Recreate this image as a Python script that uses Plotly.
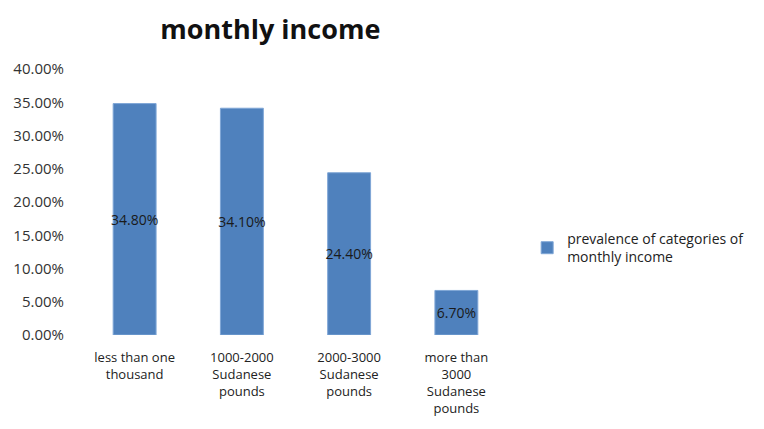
import plotly.graph_objects as go

categories = ["less than one<br>thousand", "1000-2000<br>Sudanese<br>pounds",
              "2000-3000<br>Sudanese<br>pounds", "more than<br>3000<br>Sudanese<br>pounds"]
values = [0.348, 0.341, 0.244, 0.067]
labels = ["34.80%", "34.10%", "24.40%", "6.70%"]
series_name = "prevalence of categories of<br>monthly income"

FONT = "Open Sans, Liberation Sans, sans-serif"

fig = go.Figure()
fig.add_trace(go.Bar(
    x=categories, y=values, name=series_name,
    text=labels, textposition="inside", insidetextanchor="middle", textangle=0,
    constraintext="none",
    textfont=dict(color="#1a1a1a", size=14, family=FONT),
    marker=dict(color="#4F81BD", line=dict(color="#7fa6d6", width=1)),
    width=0.4, showlegend=True,
))

fig.update_layout(
    width=756, height=421,
    paper_bgcolor="white", plot_bgcolor="white",
    margin=dict(l=73, r=254, t=61, b=94),
    title=dict(text="<b>monthly income</b>", x=0.347, xanchor="center", y=0.948, yanchor="middle",
               font=dict(size=27, color="#111", family=FONT)),
    font=dict(family=FONT, size=12, color="#333"),
    uniformtext=dict(minsize=14, mode="show"),
    xaxis=dict(showgrid=False, showline=False, ticks="", tickfont=dict(size=13, color="#222"),
               tickangle=0, automargin=False, ticklabelstandoff=13),
    yaxis=dict(range=[0, 0.40], dtick=0.05, tickformat=".2%", showgrid=False, showline=False,
               zeroline=False, ticks="", ticklabelstandoff=16, automargin=False,
               tickfont=dict(size=15, color="#333")),
    legend=dict(x=1.04, y=0.327, xanchor="left", yanchor="middle",
                font=dict(size=14, color="#222"), itemwidth=30, bgcolor="rgba(0,0,0,0)"),
    bargap=0.6,
)

fig.write_html("out.html")
